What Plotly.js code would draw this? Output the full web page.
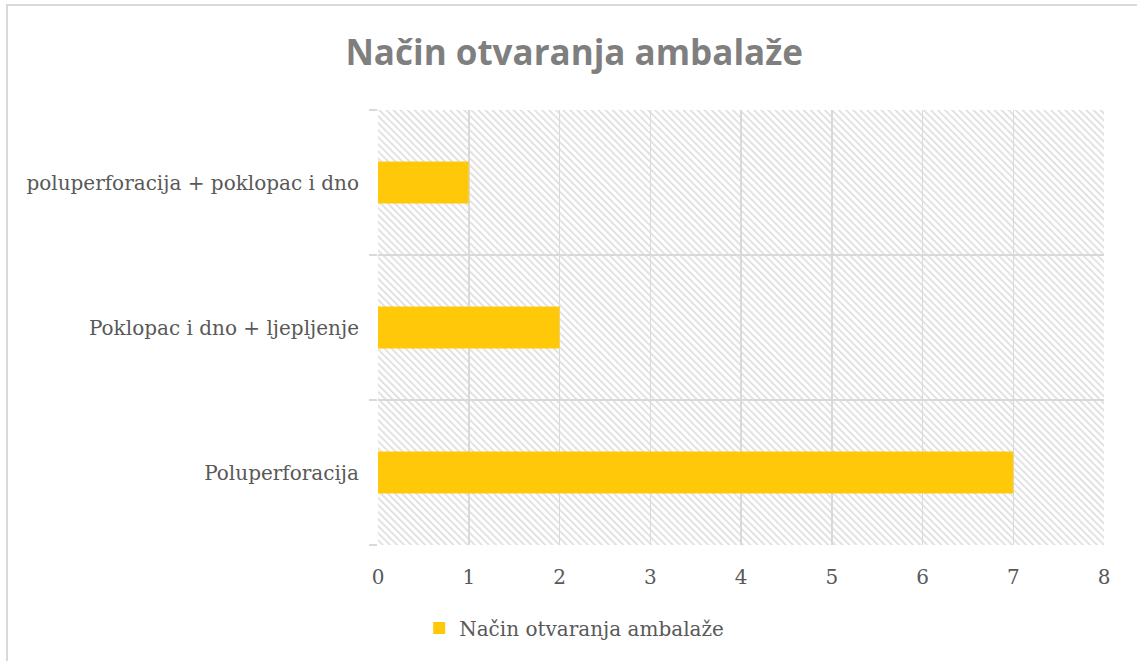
<!DOCTYPE html>
<html>
<head>
<meta charset="utf-8">
<script src="https://cdn.plot.ly/plotly-3.0.1.min.js"></script>
<style>
  html, body { margin: 0; padding: 0; background: #ffffff; }
  #frame { position: absolute; left: 6px; top: 4px; width: 1200px; height: 700px;
           border-left: 2px solid #d9d9d9; border-top: 2px solid #d9d9d9; box-sizing: border-box; }
  #chart { position: absolute; left: 0; top: 0; width: 1137px; height: 661px; }
</style>
</head>
<body>
<div id="frame"></div>
<div id="chart"></div>
<script>
const categories = ["Poluperforacija", "Poklopac i dno + ljepljenje", "poluperforacija + poklopac i dno"];
const values = [7, 2, 1];
const seriesName = "Način otvaranja ambalaže";
const chartTitle = "Način otvaranja ambalaže";
const xTicks = [0, 1, 2, 3, 4, 5, 6, 7, 8];

const W = 726, H = 435;
const svg = `<svg xmlns="http://www.w3.org/2000/svg" width="${W}" height="${H}" viewBox="0 0 ${W} ${H}" preserveAspectRatio="none">
<defs><pattern id="p" patternUnits="userSpaceOnUse" width="5" height="5" patternTransform="rotate(-45)">
<rect x="0" y="0" width="5" height="5" fill="#ffffff"/>
<rect x="0" y="0" width="1.6" height="5" fill="#dcdcdc"/>
</pattern></defs>
<rect width="${W}" height="${H}" fill="url(#p)"/></svg>`;
const hatch = "data:image/svg+xml;charset=utf-8," + encodeURIComponent(svg);

const serif = "DejaVu Serif, Liberation Serif, serif";

const trace = {
  type: "bar",
  orientation: "h",
  y: categories,
  x: values,
  name: seriesName,
  width: 0.29,
  marker: { color: "#FFC90A" },
  showlegend: true,
  hoverinfo: "x+y"
};

const layout = {
  width: 1137,
  height: 661,
  margin: { l: 378, r: 33, t: 110, b: 116 },
  paper_bgcolor: "rgba(0,0,0,0)",
  plot_bgcolor: "rgba(0,0,0,0)",
  title: {
    text: "<b>" + chartTitle + "</b>",
    font: { family: "Open Sans, sans-serif", size: 35, color: "#7f7f7f" },
    xref: "container", x: 0.505, xanchor: "center",
    yref: "container", y: 1 - 53 / 661, yanchor: "middle"
  },
  xaxis: {
    range: [0, 8],
    tickvals: xTicks,
    ticktext: xTicks.map(String),
    showgrid: true,
    gridcolor: "#d9d9d9",
    gridwidth: 1.5,
    zeroline: false,
    showline: false,
    ticks: "",
    ticklabelstandoff: 18,
    tickfont: { family: serif, size: 20, color: "#595959" },
    fixedrange: true
  },
  yaxis: {
    type: "category",
    range: [-0.5, 2.5],
    tickson: "boundaries",
    showgrid: true,
    gridcolor: "#d9d9d9",
    gridwidth: 1.5,
    ticks: "outside",
    ticklen: 8,
    tickwidth: 1.5,
    tickcolor: "#d9d9d9",
    showline: false,
    zeroline: false,
    ticklabelstandoff: 18,
    tickfont: { family: serif, size: 20, color: "#595959" },
    fixedrange: true
  },
  legend: {
    orientation: "h",
    xref: "container", x: 0.505, xanchor: "center",
    yref: "container", y: 1 - 628 / 661, yanchor: "middle",
    font: { family: serif, size: 20, color: "#595959" },
    itemwidth: 30
  },
  images: [{
    source: hatch,
    xref: "paper", yref: "paper",
    x: 0, y: 1, sizex: 1, sizey: 1,
    xanchor: "left", yanchor: "top",
    sizing: "stretch",
    layer: "below"
  }],
  bargap: 0.71
};

Plotly.newPlot("chart", [trace], layout, { displayModeBar: false, staticPlot: true });
</script>
</body>
</html>
